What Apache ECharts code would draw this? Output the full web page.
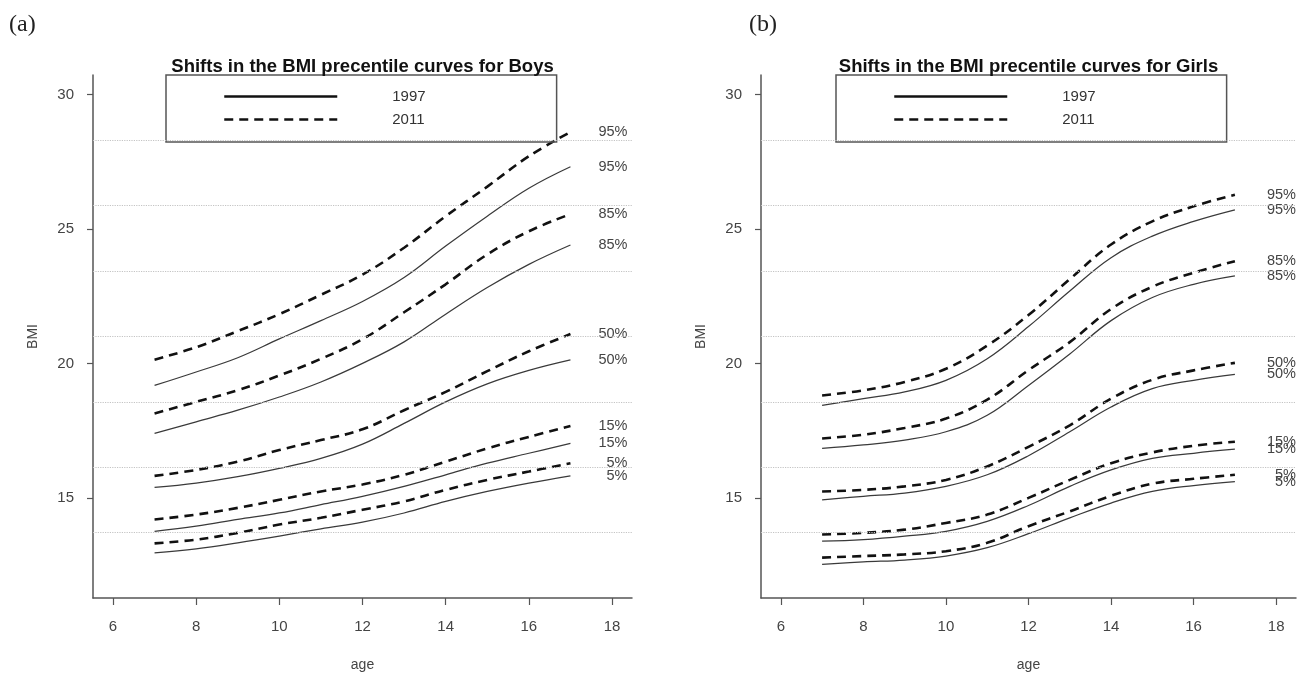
<!DOCTYPE html>
<html>
<head>
<meta charset="utf-8">
<script src="https://cdn.jsdelivr.net/npm/echarts@6/dist/echarts.min.js"></script>
<style>html,body{margin:0;padding:0;background:#fff;}#c{width:1309px;height:679px;}</style>
</head>
<body>
<div id="c"></div>
<script>
// ---- data ----
const ages = [7, 8, 9, 10, 11, 12, 13, 14, 15, 16, 17];
const percentiles = ['95%', '85%', '50%', '15%', '5%'];
const years = ['1997', '2011'];
const xTicks = [6, 8, 10, 12, 14, 16, 18];
const yTicks = [15, 20, 25, 30];
const gridLineValues = [13.71, 16.14, 18.57, 21.0, 23.43, 25.86, 28.29];
const panelTitles = ['Shifts in the BMI precentile curves for Boys', 'Shifts in the BMI precentile curves for Girls'];
const panelTags = ['(a)', '(b)'];

// Boys 1997 (solid)
const boys1997_p95 = [19.18, 19.68, 20.21, 20.91, 21.59, 22.30, 23.19, 24.36, 25.47, 26.51, 27.31];
const boys1997_p85 = [17.40, 17.83, 18.26, 18.75, 19.31, 20.00, 20.80, 21.83, 22.82, 23.68, 24.40];
const boys1997_p50 = [15.39, 15.55, 15.79, 16.10, 16.47, 17.00, 17.77, 18.57, 19.24, 19.74, 20.13];
const boys1997_p15 = [13.76, 13.95, 14.20, 14.44, 14.75, 15.06, 15.43, 15.86, 16.29, 16.66, 17.03];
const boys1997_p5  = [12.96, 13.11, 13.33, 13.58, 13.85, 14.10, 14.44, 14.87, 15.24, 15.55, 15.82];
// Boys 2011 (dashed)
const boys2011_p95 = [20.14, 20.60, 21.20, 21.83, 22.55, 23.30, 24.30, 25.47, 26.57, 27.70, 28.60];
const boys2011_p85 = [18.14, 18.57, 19.00, 19.55, 20.17, 20.90, 21.90, 22.94, 24.05, 24.91, 25.55];
const boys2011_p50 = [15.82, 16.04, 16.35, 16.78, 17.15, 17.55, 18.26, 18.94, 19.71, 20.45, 21.09];
const boys2011_p15 = [14.20, 14.38, 14.63, 14.93, 15.24, 15.50, 15.86, 16.35, 16.84, 17.27, 17.67];
const boys2011_p5  = [13.31, 13.45, 13.70, 14.01, 14.26, 14.56, 14.87, 15.30, 15.67, 15.98, 16.29];
// Girls 1997 (solid)
const girls1997_p95 = [18.44, 18.69, 18.94, 19.37, 20.17, 21.37, 22.69, 23.93, 24.73, 25.28, 25.71];
const girls1997_p85 = [16.84, 16.97, 17.15, 17.46, 18.07, 19.18, 20.35, 21.59, 22.45, 22.94, 23.25];
const girls1997_p50 = [14.93, 15.06, 15.18, 15.43, 15.86, 16.57, 17.46, 18.38, 19.06, 19.37, 19.59];
const girls1997_p15 = [13.39, 13.45, 13.58, 13.76, 14.13, 14.72, 15.43, 16.04, 16.47, 16.66, 16.81];
const girls1997_p5  = [12.53, 12.62, 12.69, 12.84, 13.15, 13.67, 14.26, 14.81, 15.24, 15.46, 15.61];
// Girls 2011 (dashed)
const girls2011_p95 = [18.81, 19.00, 19.31, 19.80, 20.66, 21.80, 23.13, 24.42, 25.28, 25.84, 26.27];
const girls2011_p85 = [17.21, 17.35, 17.60, 17.95, 18.65, 19.75, 20.79, 22.02, 22.85, 23.37, 23.80];
const girls2011_p50 = [15.24, 15.30, 15.43, 15.67, 16.17, 16.90, 17.70, 18.69, 19.39, 19.74, 20.02];
const girls2011_p15 = [13.64, 13.70, 13.82, 14.07, 14.38, 15.00, 15.67, 16.29, 16.69, 16.94, 17.09];
const girls2011_p5  = [12.78, 12.84, 12.90, 13.02, 13.33, 13.95, 14.50, 15.08, 15.53, 15.71, 15.86];

const panels = [
  { '1997': [boys1997_p95, boys1997_p85, boys1997_p50, boys1997_p15, boys1997_p5],
    '2011': [boys2011_p95, boys2011_p85, boys2011_p50, boys2011_p15, boys2011_p5] },
  { '1997': [girls1997_p95, girls1997_p85, girls1997_p50, girls1997_p15, girls1997_p5],
    '2011': [girls2011_p95, girls2011_p85, girls2011_p50, girls2011_p15, girls2011_p5] }
];

// ---- layout / style ----
const FONT = 'Liberation Sans';
const grids = [
  { left: 93, top: 75, width: 539, height: 523 },
  { left: 761, top: 75, width: 535, height: 523 }
];
const legendLeft = [166, 836];
const tagLeft = [9, 749];
const labelDistance = [57, 61];
const axisGrey = '#555';
const styles = {
  '1997': { color: '#3a3a3a', width: 1.25, type: 'solid' },
  '2011': { color: '#111', width: 2.6, type: [9, 6] }
};

const xAxes = [], yAxes = [], series = [], titles = [], legends = [];
grids.forEach((g, gi) => {
  xAxes.push({
    type: 'value', gridIndex: gi, min: 5.52, max: 18.48,
    axisLine: { show: true, onZero: false, lineStyle: { color: axisGrey, width: 1.5 } },
    axisTick: { show: true, length: 7, customValues: xTicks, lineStyle: { color: axisGrey, width: 1.2 } },
    axisLabel: { customValues: xTicks, margin: 21, fontSize: 15, color: '#444', fontFamily: FONT },
    splitLine: { show: false },
    name: 'age', nameLocation: 'middle', nameGap: 60,
    nameTextStyle: { fontSize: 14, color: '#444', fontFamily: FONT }
  });
  yAxes.push({
    type: 'value', gridIndex: gi, min: 11.28, max: 30.72,
    axisLine: { show: true, onZero: false, lineStyle: { color: axisGrey, width: 1.5 } },
    axisTick: { show: true, length: 6, customValues: yTicks, lineStyle: { color: axisGrey, width: 1.2 } },
    axisLabel: { customValues: yTicks, margin: 19, fontSize: 15, color: '#444', fontFamily: FONT },
    splitLine: { show: false },
    name: 'BMI', nameLocation: 'middle', nameGap: 53, nameRotate: 90,
    nameTextStyle: { fontSize: 14, color: '#444', fontFamily: FONT }
  });
  titles.push({
    text: panelTitles[gi], left: g.left + g.width / 2, top: 57, textAlign: 'center', padding: 0,
    textStyle: { fontSize: 18.5, fontWeight: 'bold', color: '#111', fontFamily: FONT }
  });
  titles.push({
    text: panelTags[gi], left: tagLeft[gi], top: 13, padding: 0,
    textStyle: { fontSize: 24, fontWeight: 'normal', color: '#222', fontFamily: 'Liberation Serif' }
  });
  legends.push({
    orient: 'vertical', left: legendLeft[gi], top: 75, data: years,
    itemWidth: 113, itemHeight: 15, itemGap: 8, padding: [14, 131, 15, 57],
    borderColor: '#555', borderWidth: 1.5, selectedMode: false,
    lineStyle: { width: 2.5, color: '#111' },
    itemStyle: { color: 'rgba(0,0,0,0)', borderWidth: 0, opacity: 0 },
    textStyle: { fontSize: 15, color: '#333', fontFamily: FONT, padding: [0, 0, 0, 50] }
  });
  years.forEach((yr) => {
    panels[gi][yr].forEach((arr, pi) => {
      const s = {
        type: 'line', name: yr, xAxisIndex: gi, yAxisIndex: gi,
        data: ages.map((a, i) => [a, arr[i]]),
        smooth: 0.4, symbol: 'none', showSymbol: false, silent: true,
        color: styles[yr].color,
        lineStyle: { color: styles[yr].color, width: styles[yr].width, type: styles[yr].type },
        endLabel: {
          show: true, formatter: percentiles[pi], distance: labelDistance[gi], align: 'right',
          fontSize: 14.5, color: '#444', fontFamily: FONT
        },
        z: yr === '2011' ? 3 : 2
      };
      if (yr === '1997' && pi === 0) {
        s.markLine = {
          silent: true, symbol: ['none', 'none'], animation: false,
          label: { show: false },
          lineStyle: { type: 'dotted', color: '#c4c4c4', width: 1.2 },
          data: gridLineValues.map(v => ({ yAxis: v }))
        };
      }
      series.push(s);
    });
  });
});

const chart = echarts.init(document.getElementById('c'), null, { renderer: 'canvas' });
chart.setOption({
  backgroundColor: '#fff',
  animation: false,
  textStyle: { fontFamily: FONT },
  title: titles,
  legend: legends,
  grid: grids,
  xAxis: xAxes,
  yAxis: yAxes,
  series: series
});
</script>
</body>
</html>
